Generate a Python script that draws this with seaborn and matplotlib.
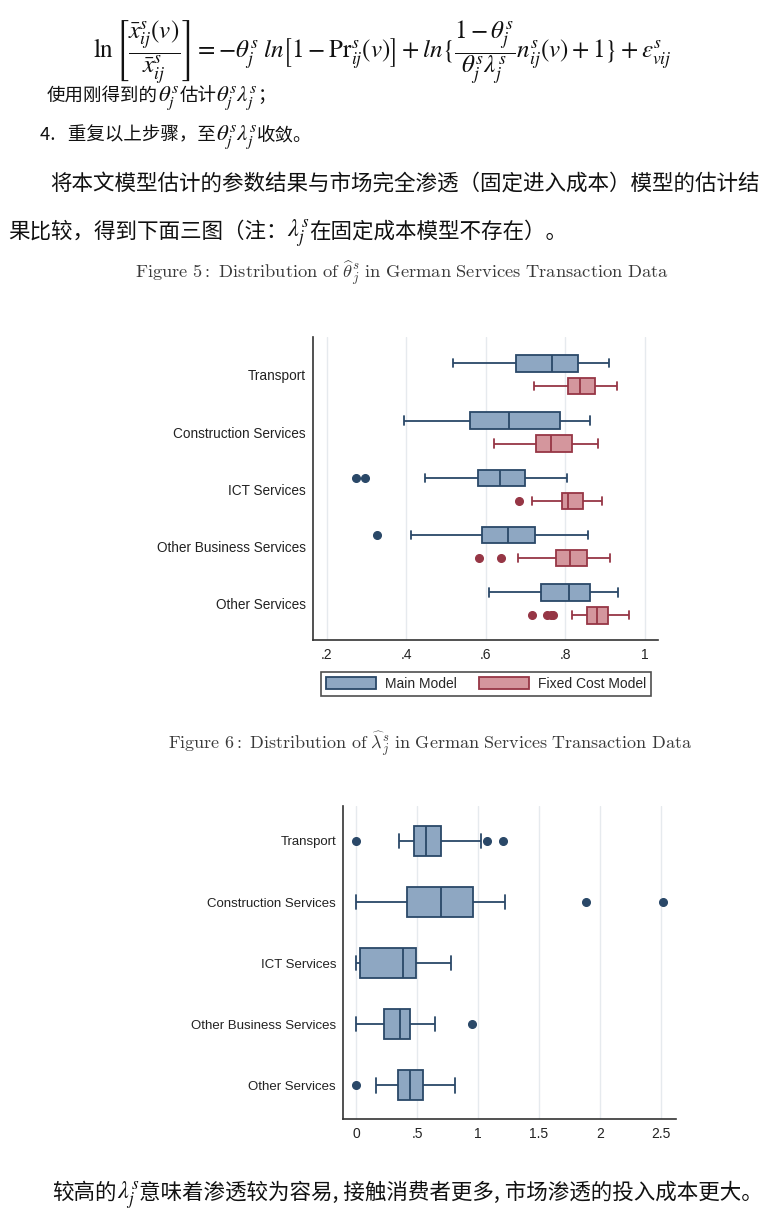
import numpy as np
import pandas as pd
import matplotlib
matplotlib.use("Agg")
import matplotlib.pyplot as plt
from matplotlib.patches import Patch
import seaborn as sns

sectors = ["Transport", "Construction Services", "ICT Services",
           "Other Business Services", "Other Services"]
models = ["Main Model", "Fixed Cost Model"]

# Figure 5: theta box summaries (whisker low, q1, median, q3, whisker high, outliers)
theta_main_lo = [0.517, 0.395, 0.448, 0.412, 0.608]
theta_main_q1 = [0.676, 0.560, 0.581, 0.590, 0.739]
theta_main_med = [0.767, 0.659, 0.636, 0.655, 0.810]
theta_main_q3 = [0.831, 0.786, 0.698, 0.725, 0.863]
theta_main_hi = [0.910, 0.861, 0.804, 0.858, 0.933]
theta_main_out = [[], [], [0.275, 0.297], [0.328], []]

theta_fixed_lo = [0.722, 0.621, 0.716, 0.682, 0.816]
theta_fixed_q1 = [0.806, 0.726, 0.792, 0.776, 0.854]
theta_fixed_med = [0.837, 0.763, 0.808, 0.811, 0.879]
theta_fixed_q3 = [0.874, 0.818, 0.844, 0.854, 0.907]
theta_fixed_hi = [0.929, 0.883, 0.892, 0.912, 0.960]
theta_fixed_out = [[], [], [0.683], [0.583, 0.639], [0.716, 0.754, 0.763, 0.768]]

# Figure 6: lambda box summaries
lam_lo = [0.353, 0.0, 0.0, 0.0, 0.159]
lam_q1 = [0.469, 0.414, 0.030, 0.225, 0.342]
lam_med = [0.575, 0.693, 0.384, 0.362, 0.444]
lam_q3 = [0.693, 0.956, 0.493, 0.444, 0.543]
lam_hi = [1.025, 1.219, 0.778, 0.644, 0.811]
lam_out = [[0.0, 1.074, 1.206], [1.886, 2.521], [], [0.948], [0.0]]

theta_ticks = [0.2, 0.4, 0.6, 0.8, 1.0]
theta_ticklabels = [".2", ".4", ".6", ".8", "1"]
lam_ticks = [0, 0.5, 1, 1.5, 2, 2.5]
lam_ticklabels = ["0", ".5", "1", "1.5", "2", "2.5"]

main_fill, main_edge = "#8ea7c2", "#2a4868"
fixed_fill, fixed_edge = "#d4969d", "#963645"


def sample(lo, q1, med, q3, hi, out):
    # a sample whose quartiles / whisker ends equal the read-off values
    return [lo] + [q1] * 20 + [med] * 20 + [q3] * 20 + [hi] + list(out)


def long_table(lo, q1, med, q3, hi, out, model):
    rows = []
    for i, s in enumerate(sectors):
        for v in sample(lo[i], q1[i], med[i], q3[i], hi[i], out[i]):
            rows.append((s, model, v))
    return pd.DataFrame(rows, columns=["sector", "model", "value"])


df_main = long_table(theta_main_lo, theta_main_q1, theta_main_med,
                     theta_main_q3, theta_main_hi, theta_main_out, models[0])
df_fixed = long_table(theta_fixed_lo, theta_fixed_q1, theta_fixed_med,
                      theta_fixed_q3, theta_fixed_hi, theta_fixed_out, models[1])
df_lam = long_table(lam_lo, lam_q1, lam_med, lam_q3, lam_hi, lam_out, models[0])

sns.set_style("white")
plt.rcParams["font.family"] = ["Liberation Sans", "Noto Sans CJK SC", "DejaVu Sans"]
plt.rcParams["mathtext.fontset"] = "stix"

fig = plt.figure(figsize=(7.7, 12.1), dpi=100)
renderer = fig.canvas.get_renderer()
cjk = ["Noto Sans CJK SC", "DejaVu Sans"]


def text_run(x, y, pieces):
    # pieces of (text, fontsize) laid out left to right on one baseline
    for txt, size in pieces:
        t = fig.text(x, y, txt, fontsize=size, family=cjk, ha="left",
                     va="baseline", color="#111111")
        x += t.get_window_extent(renderer=renderer).width / fig.bbox.width


# ---- text block at top
fig.text(0.496, 0.9565,
         r"$\ln\left[\dfrac{\bar{x}^s_{ij}(v)}{\bar{x}^s_{ij}}\right]=-\theta^s_j\;ln\left[1-\mathrm{Pr}^s_{ij}(v)\right]"
         r"+ln\{\dfrac{1-\theta^s_j}{\theta^s_j\lambda^s_j}n^s_{ij}(v)+1\}+\varepsilon^s_{vij}$",
         ha="center", va="center", fontsize=18, color="#111111")
text_run(0.061, 0.9165, [("使用刚得到的", 13.3), (r"$\theta^s_j$", 16.5), ("估计", 13.3),
                         (r"$\theta^s_j\lambda^s_j$", 16.5), ("；", 13.3)])
text_run(0.052, 0.8840, [("4.   重复以上步骤，至", 13.3), (r"$\theta^s_j\lambda^s_j$", 16.5),
                         ("收敛。", 13.3)])
text_run(0.065, 0.8430, [("将本文模型估计的参数结果与市场完全渗透（固定进入成本）模型的估计结", 15.5)])
text_run(0.010, 0.8040, [("果比较，得到下面三图（注：", 15.5), (r"$\lambda^s_j$", 17.5),
                         ("在固定成本模型不存在）。", 15.5)])
text_run(0.068, 0.0090, [("较高的", 15.5), (r"$\lambda^s_j$", 17.5),
                         ("意味着渗透较为容易, 接触消费者更多, 市场渗透的投入成本更大。", 15.5)])

fig.text(0.522, 0.775,
         r"$\mathrm{Figure\ 5{:}\ Distribution\ of\ }\widehat{\theta}^s_j\mathrm{\ in\ German\ Services\ Transaction\ Data}$",
         ha="center", va="center", fontsize=13.3, math_fontfamily="cm", color="#3a3a3a")
fig.text(0.558, 0.385,
         r"$\mathrm{Figure\ 6{:}\ Distribution\ of\ }\widehat{\lambda}^s_j\mathrm{\ in\ German\ Services\ Transaction\ Data}$",
         ha="center", va="center", fontsize=13.0, math_fontfamily="cm", color="#3a3a3a")


def style_axis(ax, ticks, labels, xlim, ylim, ysize):
    ax.set_xlim(*xlim)
    ax.set_ylim(*ylim)
    ax.set_xticks(ticks)
    ax.set_xticklabels(labels)
    ax.set_xlabel("")
    ax.set_ylabel("")
    ax.grid(axis="x", color="#e6eaee", linewidth=1.0)
    ax.grid(axis="y", visible=False)
    ax.set_axisbelow(True)
    for side in ["top", "right"]:
        ax.spines[side].set_visible(False)
    for side in ["left", "bottom"]:
        ax.spines[side].set_color("#333333")
        ax.spines[side].set_linewidth(1.2)
    ax.tick_params(axis="x", length=4, width=1, color="#333333", labelsize=10,
                   labelcolor="#222222", pad=2)
    ax.tick_params(axis="y", length=0, labelsize=ysize, labelcolor="#222222", pad=5)


def draw(ax, df, fill, edge, hue_order, width, gap):
    sns.boxplot(data=df, x="value", y="sector", hue="model", order=sectors,
                hue_order=hue_order, orient="h", dodge=True, width=width, gap=gap,
                palette={m: fill for m in hue_order}, saturation=1,
                linecolor=edge, linewidth=1.3, whis=1.5, legend=False, ax=ax,
                flierprops=dict(marker="o", markerfacecolor=edge,
                                markeredgecolor=edge, markersize=5.5))


# ---- Figure 5
ax1 = fig.add_axes([0.4065, 0.4711, 0.448, 0.2504])
draw(ax1, df_main, main_fill, main_edge, models, 0.8, 0.28)
draw(ax1, df_fixed, fixed_fill, fixed_edge, models, 0.8, 0.28)
style_axis(ax1, theta_ticks, theta_ticklabels, (0.166, 1.033), (4.63, -0.66), 9.8)

handles = [Patch(facecolor=main_fill, edgecolor=main_edge, linewidth=1.3, label=models[0]),
           Patch(facecolor=fixed_fill, edgecolor=fixed_edge, linewidth=1.3, label=models[1])]
leg = fig.legend(handles=handles, loc="center", bbox_to_anchor=(0.631, 0.4347), ncol=2,
                 fontsize=10, frameon=True, fancybox=False, handlelength=3.6,
                 handleheight=1.0, columnspacing=1.6, handletextpad=0.65,
                 borderpad=0.35, borderaxespad=0, edgecolor="#222222")
leg.get_frame().set_linewidth(1.2)

# ---- Figure 6
ax2 = fig.add_axes([0.4455, 0.0752, 0.4325, 0.2587])
draw(ax2, df_lam, main_fill, main_edge, [models[0]], 0.49, 0)
style_axis(ax2, lam_ticks, lam_ticklabels, (-0.110, 2.626), (4.557, -0.574), 9.5)

fig.savefig("out.png", dpi=100, facecolor="white")
